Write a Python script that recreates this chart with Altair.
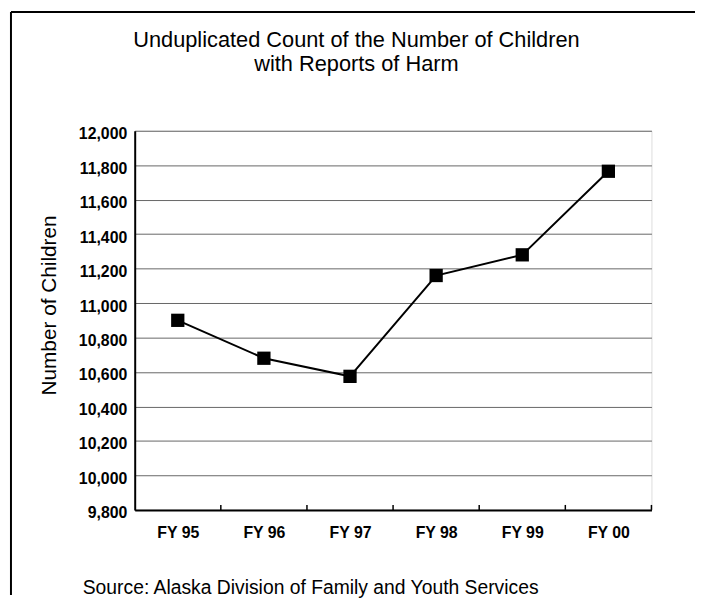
import altair as alt
import pandas as pd

# ---- data ----
years = ["FY 95", "FY 96", "FY 97", "FY 98", "FY 99", "FY 00"]
children = [10900, 10680, 10575, 11160, 11280, 11765]
y_ticks = [9800, 10000, 10200, 10400, 10600, 10800, 11000, 11200, 11400, 11600, 11800, 12000]

title_lines = ["Unduplicated Count of the Number of Children", "with Reports of Harm"]
y_title = "Number of Children"
source_note = "Source: Alaska Division of Family and Youth Services"

df = pd.DataFrame({"year": years, "children": children})

W, H = 522, 383
FONT = "Liberation Sans"
STEP = W / len(years)

x_enc = alt.X(
    "year:N",
    sort=years,
    scale=alt.Scale(type="point", padding=0.5),
    axis=alt.Axis(
        title=source_note,
        labelAngle=0,
        labelFontSize=16,
        labelFontWeight="bold",
        labelFont=FONT,
        labelColor="black",
        labelPadding=15,
        ticks=False,
        grid=False,
        domainColor="black",
        domainWidth=2,
        titleX=-53,
        titleY=78,
        titleAlign="left",
        titleBaseline="middle",
        titleFontSize=19.5,
        titleFontWeight="normal",
        titleFont=FONT,
        titleColor="black",
    ),
)

y_enc = alt.Y(
    "children:Q",
    scale=alt.Scale(domain=[9800, 12000], nice=False, zero=False),
    axis=alt.Axis(
        values=y_ticks,
        format=",d",
        labelOverlap=False,
        title=y_title,
        titleX=-86,
        titleY=176,
        titleAngle=270,
        titleAlign="center",
        titleBaseline="middle",
        titleFontSize=21,
        titleFontWeight="normal",
        titleFont=FONT,
        titleColor="black",
        labelFontSize=16,
        labelFontWeight="bold",
        labelFont=FONT,
        labelColor="black",
        labelPadding=8,
        labelOffset=3,
        ticks=False,
        grid=True,
        gridColor="#666666",
        gridWidth=1,
        domainColor="black",
        domainWidth=2,
    ),
)

base = alt.Chart(df).encode(x=x_enc, y=y_enc)

line = base.mark_line(color="black", strokeWidth=2)
points = base.mark_point(shape="square", filled=True, size=180, color="black", opacity=1)

# category separator ticks on the x axis (pointing up into the plot)
sep_ticks = base.mark_rule(color="black", strokeWidth=1.5, xOffset=STEP / 2).encode(
    y=alt.value(H - 5),
    y2=alt.value(H),
)

# outer frame of the figure (top and left edges)
frame_df = pd.DataFrame({"k": [0]})
frame_top = alt.Chart(frame_df).mark_rule(color="black", strokeWidth=2).encode(
    x=alt.value(-125), x2=alt.value(570), y=alt.value(-120)
)
frame_left = alt.Chart(frame_df).mark_rule(color="black", strokeWidth=2).encode(
    x=alt.value(-125), y=alt.value(-120), y2=alt.value(469)
)

chart = (
    alt.layer(line, points, sep_ticks, frame_top, frame_left)
    .properties(
        width=W,
        height=H,
        padding={"left": 128, "top": 121, "right": 44, "bottom": 86},
        autosize=alt.AutoSizeParams(type="none"),
        title=alt.TitleParams(
            text=title_lines,
            fontSize=22,
            fontWeight="normal",
            font=FONT,
            color="black",
            anchor="middle",
            frame="group",
            offset=0,
            dx=-37,
            dy=66,
            lineHeight=25,
        ),
    )
    .configure_view(stroke=None)
    .configure(background="white")
)

chart.save("out.html", embed_options={"renderer": "svg", "actions": False})
